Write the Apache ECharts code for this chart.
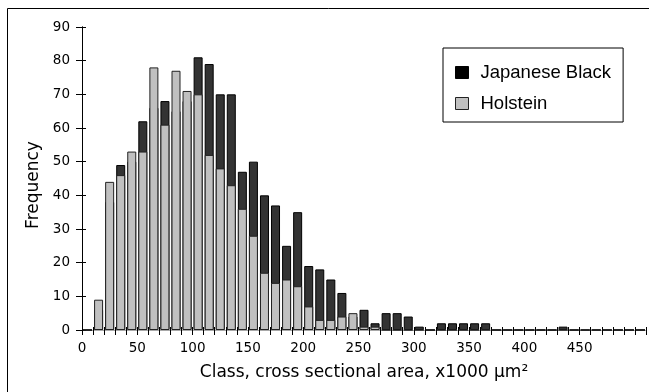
<!DOCTYPE html>
<html>
<head>
<meta charset="utf-8">
<script src="https://cdn.jsdelivr.net/npm/echarts@6/dist/echarts.min.js"></script>
<style>
html,body{margin:0;padding:0;background:#fff;}
#chart{width:649px;height:392px;}
</style>
</head>
<body>
<div id="chart"></div>
<script>
// class lower bounds (x1000 µm²), width 10
var classStarts = [0,10,20,30,40,50,60,70,80,90,100,110,120,130,140,150,160,170,180,190,200,210,220,230,240,250,260,270,280,290,300,310,320,330,340,350,360,370,380,390,400,410,420,430,440,450,460,470,480,490,500];
var japaneseBlack = [0,6,38,49,50,62,66,68,65,68,81,79,70,70,47,50,40,37,25,35,19,18,15,11,4,6,2,5,5,4,1,0,2,2,2,2,2,0,0,0,0,0,0,1,0,0,0,0,0,0,0];
var holstein = [0,9,44,46,53,53,78,61,77,71,70,52,48,43,36,28,17,14,15,13,7,3,3,4,5,1,1,0,0,0,0,0,0,0,0,0,0,0,0,0,0,0,0,0,0,0,0,0,0,0,0];
var xTickLabels = [0,50,100,150,200,250,300,350,400,450];
var yTicks = [0,10,20,30,40,50,60,70,80,90];

var FONT = 'DejaVu Sans';
var LFONT = 'Liberation Sans';
var chart = echarts.init(document.getElementById('chart'), null, {renderer:'canvas'});

function pairs(vals){ return classStarts.map(function(c,i){ return [c + 5, vals[i]]; }); }

var option = {
  backgroundColor:'#ffffff',
  animation:false,
  textStyle:{fontFamily:FONT, color:'#000'},
  grid:{left:82, right:1, top:27, bottom:62, containLabel:false},
  graphic:[{type:'rect', shape:{x:7.5, y:8.5, width:700, height:450}, style:{fill:'none', stroke:'#000', lineWidth:1}, silent:true}],
  legend:{
    orient:'vertical', left:443, top:48,
    padding:[15,12,9,12],
    borderColor:'#000', borderWidth:1, borderRadius:0,
    backgroundColor:'#fff',
    itemWidth:13, itemHeight:12, itemGap:12,
    textStyle:{fontFamily:LFONT, fontSize:18.5, color:'#000', lineHeight:18, padding:[0,0,0,7]},
    data:[
      {name:'Japanese Black', icon:'rect', itemStyle:{color:'#000', borderColor:'#000', borderWidth:1}},
      {name:'Holstein', icon:'rect', itemStyle:{color:'#c0c0c0', borderColor:'#222', borderWidth:1}}
    ]
  },
  xAxis:[
    {type:'value', position:'bottom', min:0, max:510, interval:10,
     axisLine:{show:true, lineStyle:{color:'#000', width:1}},
     axisTick:{show:true, length:5, lineStyle:{color:'#000'}},
     splitLine:{show:false},
     axisLabel:{show:true, margin:11, fontFamily:FONT, fontSize:13.5, color:'#000',
       formatter:function(v){ return xTickLabels.indexOf(v) >= 0 ? String(v) : ''; }},
     name:'Class, cross sectional area, x1000 µm²', nameLocation:'middle', nameGap:34,
     nameTextStyle:{fontFamily:FONT, fontSize:17, color:'#000'}},
    {type:'value', position:'top', min:0, max:510, interval:10,
     axisLine:{show:true, lineStyle:{color:'#a8a8a8', width:1}},
     axisTick:{show:false}, axisLabel:{show:false}, splitLine:{show:false}},
    {type:'value', position:'bottom', min:0, max:510, interval:10,
     axisLine:{show:false}, axisTick:{show:true, inside:true, length:3, lineStyle:{color:'#000'}},
     axisLabel:{show:false}, splitLine:{show:false}}
  ],
  yAxis:[
    {type:'value', position:'left', min:0, max:90, interval:10,
     axisLine:{show:true, lineStyle:{color:'#000', width:1}},
     axisTick:{show:true, length:6, lineStyle:{color:'#000'}},
     splitLine:{show:false},
     axisLabel:{show:true, margin:12, fontFamily:FONT, fontSize:13.5, color:'#000',
       formatter:function(v){ return yTicks.indexOf(v) >= 0 ? String(v) : ''; }},
     name:'Frequency', nameLocation:'middle', nameGap:40, nameRotate:90,
     nameTextStyle:{fontFamily:FONT, fontSize:17, color:'#000', padding:[0,13,0,0]}},
    {type:'value', position:'right', min:0, max:90, interval:10,
     axisLine:{show:true, lineStyle:{color:'#000', width:1}},
     axisTick:{show:false}, axisLabel:{show:false}, splitLine:{show:false}},
    {type:'value', position:'left', min:0, max:90, interval:10,
     axisLine:{show:false}, axisTick:{show:true, inside:true, length:4, lineStyle:{color:'#000'}},
     axisLabel:{show:false}, splitLine:{show:false}}
  ],
  series:[
    {name:'Japanese Black', type:'bar', xAxisIndex:0, yAxisIndex:0, barWidth:9, barGap:'-100%',
     itemStyle:{color:'#333333', borderColor:'#000', borderWidth:1},
     data:pairs(japaneseBlack)},
    {name:'Holstein', type:'bar', xAxisIndex:0, yAxisIndex:0, barWidth:9, barGap:'-100%',
     itemStyle:{color:'#c0c0c0', borderColor:'#222', borderWidth:1},
     data:pairs(holstein)}
  ]
};
chart.setOption(option);
</script>
</body>
</html>
